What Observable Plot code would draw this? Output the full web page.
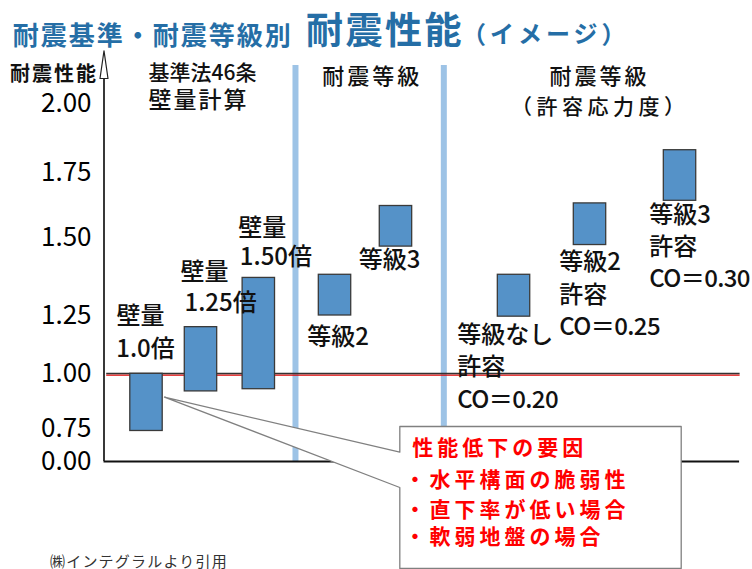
<!DOCTYPE html>
<html>
<head>
<meta charset="utf-8">
<script src="https://cdn.jsdelivr.net/npm/d3@7"></script>
<script src="https://cdn.jsdelivr.net/npm/@observablehq/plot@0.6"></script>
<style>
  body { margin: 0; background: white; }
  #wrap { position: relative; width: 752px; height: 569px; overflow: hidden; background: white; }
  #wrap svg { position: absolute; left: 0; top: 0; }
  .ov { position: absolute; line-height: 1; white-space: nowrap; font-family: "Noto Sans CJK JP", sans-serif; }
</style>
</head>
<body>
<div id="wrap">
  <div class="ov" style="left:12.7px; top:20.5px; font-size:26px; font-weight:700; color:#256ea6; letter-spacing:2px;">耐震基準・耐震等級別</div>
  <div class="ov" style="left:306px; top:9.5px; font-size:37px; font-weight:700; color:#256ea6; letter-spacing:2.5px;">耐震性能</div>
  <div class="ov" style="left:462px; top:21px; font-size:24px; font-weight:700; color:#256ea6; letter-spacing:4px;">（イメージ）</div>
  <div class="ov" style="left:10px; top:63px; font-size:20px; font-weight:700; color:#111; letter-spacing:2px;">耐震性能</div>
  <div class="ov" style="left:50px; top:552.5px; font-size:15px; color:#333; letter-spacing:1.2px;">㈱インテグラルより引用</div>
</div>
<script>
// ---- data ----
const yTicks = [0, 0.75, 1.00, 1.25, 1.50, 1.75, 2.00];
const yTickPixels = [461, 428.3, 373.3, 315, 236.7, 171.7, 103]; // non-linear axis of the drawing

const barNames = ["壁量1.0倍", "壁量1.25倍", "壁量1.50倍", "耐震等級2", "耐震等級3", "等級なし許容", "等級2許容", "等級3許容"];
const barX     = [0.787, 1.796, 2.867, 4.278, 5.407, 7.593, 9.0, 10.667];
const barLow   = [0.70, 0.92, 0.93, 1.25, 1.47, 1.245, 1.475, 1.64];
const barHigh  = [1.00, 1.20, 1.37, 1.38, 1.62, 1.38, 1.63, 1.83];

const labelText = ["壁量", "1.0倍", "壁量", "1.25倍", "壁量", "1.50倍", "等級2", "等級3",
                   "等級なし", "許容", "CO＝0.20", "等級2", "許容", "CO＝0.25", "等級3", "許容", "CO＝0.30"];
const labelX = [0.231, 0.226, 1.417, 1.491, 2.485, 2.515, 3.763, 4.719,
                6.541, 6.541, 6.541, 8.43, 8.43, 8.43, 10.096, 10.096, 10.096];
const labelY = [1.246, 1.104, 1.387, 1.288, 1.533, 1.435, 1.157, 1.426,
                1.164, 1.028, 0.879, 1.420, 1.314, 1.200, 1.583, 1.468, 1.364];

const headerText = ["基準法46条", "耐震等級", "耐震等級"];
const headerX = [0.824, 4.041, 8.25];
const headerY = [2.109, 2.095, 2.095];
const header2Text = ["壁量計算"];
const header2X = [0.824];
const header2Y = [2.011];
const subText = ["（許容応力度）"];
const subX = [7.535];
const subY = [1.985];

const dividerX = [3.546, 6.293];
const dividerTop = 2.138;

const calloutText = ["性能低下の要因", "・水平構面の脆弱性", "・直下率が低い場合", "・軟弱地盤の場合"];
const calloutX = [5.707, 5.565, 5.565, 5.565];
const calloutY = [0.298, -0.436, -1.124, -1.743];
// callout box + pointer outline (x units, y values)
const calloutPX = [5.478, 10.689, 10.689, 5.478, 5.478, 1.12, 5.478, 5.478];
const calloutPY = [0.7605, 0.7605, -2.454, -2.454, -0.596, 0.894, 0.213, 0.7605];

const arrowPX = [-0.074, 0, 0.074, -0.074];
const arrowPY = [2.091, 2.192, 2.091, 2.091];

// ---- tables ----
const bars = barNames.map((n, i) => ({name: n, x: barX[i], lo: barLow[i], hi: barHigh[i]}));
const labels = labelText.map((t, i) => ({t, x: labelX[i], y: labelY[i]}));
const headers = headerText.map((t, i) => ({t, x: headerX[i], y: headerY[i]}));
const headers2 = header2Text.map((t, i) => ({t, x: header2X[i], y: header2Y[i]}));
const subs = subText.map((t, i) => ({t, x: subX[i], y: subY[i]}));
const callTexts = calloutText.map((t, i) => ({t, x: calloutX[i], y: calloutY[i]}));
const callPoly = calloutPX.map((x, i) => ({x, y: calloutPY[i]}));
const arrowPoly = arrowPX.map((x, i) => ({x, y: arrowPY[i]}));

const halfW = 0.3;
const cjk = '"Noto Sans CJK JP", sans-serif';

const chart = Plot.plot({
  width: 752,
  height: 569,
  marginLeft: 103.5,
  marginTop: 0,
  marginRight: 0,
  marginBottom: 0,
  style: {background: "white", color: "black", fontFamily: cjk, overflow: "visible"},
  x: {type: "linear", domain: [0, 12], range: [103.5, 751.5], axis: null},
  y: {type: "linear", domain: yTicks, range: yTickPixels},
  marks: [
    Plot.ruleX(dividerX, {y1: 0, y2: dividerTop, stroke: "#9dc3e6", strokeWidth: 6}),
    Plot.ruleY([0], {x1: 0, x2: 11.77, stroke: "#111", strokeWidth: 2}),
    Plot.ruleY([1], {x1: 0.05, x2: 11.78, stroke: "#e00000", strokeWidth: 1.1, dy: 1.3}),
    Plot.ruleY([1], {x1: 0.05, x2: 11.78, stroke: "#333", strokeWidth: 1.4, dy: -0.3}),
    Plot.ruleX([0], {y1: 0, y2: 2.091, stroke: "#222", strokeWidth: 1.8}),
    Plot.line(arrowPoly, {x: "x", y: "y", fill: "white", stroke: "#222", strokeWidth: 1.2}),
    Plot.axisY(yTicks, {tickSize: 0, tickPadding: 12.5, tickFormat: d3.format(".2f"), fontSize: 26, label: null}),
    Plot.rect(bars, {x1: d => d.x - halfW, x2: d => d.x + halfW, y1: "lo", y2: "hi", fill: "#5592c8", stroke: "#3a3a3a", strokeWidth: 1.3}),
    Plot.line(callPoly, {x: "x", y: "y", fill: "white", stroke: "#808080", strokeWidth: 1.3}),
    Plot.text(headers, {x: "x", y: "y", text: "t", textAnchor: "start", fontSize: d => d.t === "基準法46条" ? 21 : 22, fontWeight: 500, fill: "#111"}),
    Plot.text(headers2, {x: "x", y: "y", text: "t", textAnchor: "start", fontSize: 23, fontWeight: 500, fill: "#111"}),
    Plot.text(subs, {x: "x", y: "y", text: "t", textAnchor: "start", fontSize: 21, fontWeight: 500, fill: "#111"}),
    Plot.text(labels, {x: "x", y: "y", text: "t", textAnchor: "start", fontSize: 24, fontWeight: 500, fill: "#111"}),
    Plot.text(callTexts, {x: "x", y: "y", text: "t", textAnchor: "start", fontSize: 21, fontWeight: 700, fill: "#ff0000"})
  ]
});

// letter-spacing styles for particular texts
const spacing = {
  "壁量計算": 2, "耐震等級": 3, "（許容応力度）": 4.5,
  "CO＝0.20": -0.6, "CO＝0.25": -0.6, "CO＝0.30": -0.6,
  "性能低下の要因": 4, "・水平構面の脆弱性": 4, "・直下率が低い場合": 4, "・軟弱地盤の場合": 4
};
d3.select(chart).selectAll("text").each(function () {
  const t = this.textContent;
  if (t in spacing) this.style.letterSpacing = spacing[t] + "px";
});
document.getElementById("wrap").prepend(chart);
</script>
</body>
</html>
